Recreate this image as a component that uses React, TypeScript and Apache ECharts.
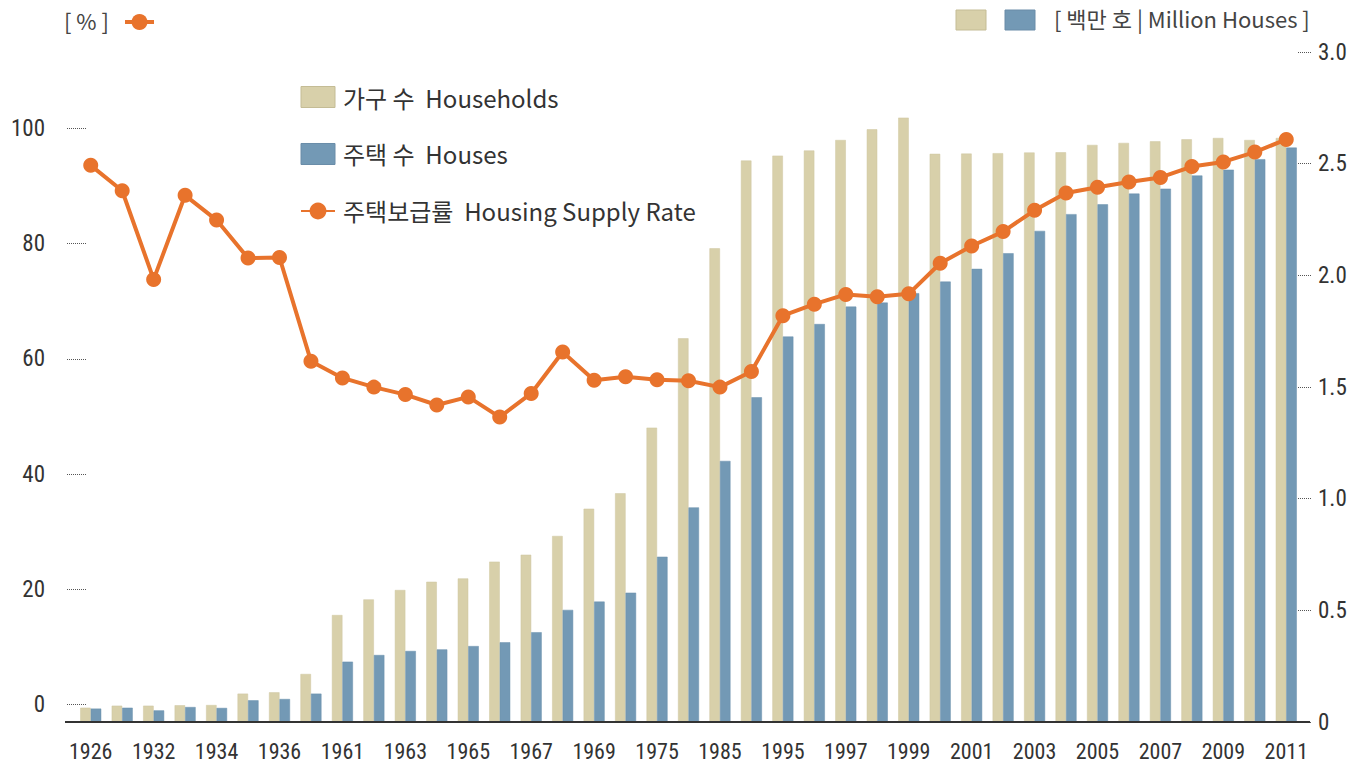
import React, { useEffect, useRef } from "react";
import * as echarts from "echarts";

const years = ["1926","1930","1932","1933","1934","1935","1936","1960","1961","1962","1963","1964","1965","1966","1967","1968","1969","1970","1975","1980","1985","1990","1995","1996","1997","1998","1999","2000","2001","2002","2003","2004","2005","2006","2007","2008","2009","2010","2011"];

const households = [0.064,0.073,0.073,0.075,0.076,0.127,0.133,0.215,0.479,0.549,0.591,0.628,0.643,0.718,0.749,0.833,0.955,1.024,1.318,1.718,2.121,2.514,2.536,2.559,2.606,2.654,2.706,2.544,2.545,2.547,2.550,2.551,2.584,2.593,2.600,2.609,2.615,2.606,2.615];

const houses = [0.060,0.064,0.052,0.067,0.063,0.097,0.103,0.127,0.270,0.300,0.318,0.325,0.340,0.357,0.402,0.502,0.539,0.579,0.740,0.961,1.169,1.454,1.726,1.782,1.860,1.878,1.920,1.972,2.029,2.099,2.199,2.274,2.318,2.366,2.388,2.447,2.473,2.520,2.572];

const supplyRate = [93.6,89.2,73.8,88.4,84.1,77.5,77.6,59.6,56.7,55.1,53.8,52.0,53.4,49.9,54.0,61.2,56.3,56.9,56.4,56.2,55.1,57.8,67.5,69.5,71.2,70.8,71.3,76.6,79.6,82.1,85.8,88.8,89.8,90.7,91.5,93.4,94.2,95.9,98.1];

const names = ["가구 수  Households", "주택 수  Houses", "주택보급률  Housing Supply Rate"];

const BEIGE = "#d8d0aa";
const BLUE = "#7399b5";
const ORANGE = "#e8732c";
const TEXT = "#333333";
const NUM_FONT = "'Liberation Sans Narrow', 'Roboto Condensed', 'DejaVu Sans Condensed', sans-serif";
const KR_FONT = "'Noto Sans CJK KR', 'Noto Sans', sans-serif";

export default function App() {
  const ref = useRef<HTMLDivElement>(null);
  useEffect(() => {
    document.body.style.margin = "0";
    const chart = echarts.init(ref.current!, null, { renderer: "svg" });
    chart.setOption({
      animation: false,
      backgroundColor: "#ffffff",
      grid: [
        { left: 75, right: 63, top: 52, bottom: 43 },
        { left: 75, right: 63, top: 128.5, bottom: 60.5 },
      ],
      legend: {
        orient: "vertical",
        left: 295,
        top: 80,
        itemWidth: 34,
        itemHeight: 21,
        itemGap: 33,
        data: [
          { name: names[0], icon: "rect", itemStyle: { borderColor: "#c4bc95", borderWidth: 1 } },
          { name: names[1], icon: "rect", itemStyle: { borderColor: "#6a8ca8", borderWidth: 1 } },
          { name: names[2] },
        ],
        textStyle: { fontFamily: KR_FONT, fontSize: 24, color: TEXT, padding: [0, 0, 0, 3] },
      },
      xAxis: [
        {
          type: "category",
          gridIndex: 0,
          data: years,
          axisLine: { show: false },
          axisTick: { show: false },
          axisLabel: {
            interval: 1,
            margin: 18,
            fontFamily: NUM_FONT,
            fontSize: 22,
            lineHeight: 22,
            color: TEXT,
          },
        },
        {
          type: "category",
          gridIndex: 1,
          data: years,
          show: false,
        },
      ],
      yAxis: [
        {
          type: "value",
          gridIndex: 0,
          position: "right",
          min: 0,
          max: 3,
          interval: 0.5,
          offset: -4,
          axisLine: { show: false },
          axisTick: { show: true, length: 14, lineStyle: { type: "dotted", color: "#555", width: 1 } },
          splitLine: { show: false },
          axisLabel: {
            margin: 20,
            fontFamily: NUM_FONT,
            fontSize: 23,
            color: TEXT,
            formatter: (v: number) => (v === 0 ? "0" : v.toFixed(1)),
          },
        },
        {
          type: "value",
          gridIndex: 1,
          position: "left",
          min: 0,
          max: 100,
          interval: 20,
          offset: -11,
          axisLine: { show: false },
          axisTick: { show: true, length: 20, lineStyle: { type: "dotted", color: "#555", width: 1 } },
          splitLine: { show: false },
          axisLabel: {
            margin: 41,
            fontFamily: NUM_FONT,
            fontSize: 23,
            color: TEXT,
          },
        },
      ],
      series: [
        {
          name: names[0],
          type: "bar",
          xAxisIndex: 0,
          yAxisIndex: 0,
          data: households,
          barWidth: 10.5,
          barGap: "0%",
          itemStyle: { color: BEIGE, borderColor: "#cfc7a0", borderWidth: 0.5 },
        },
        {
          name: names[1],
          type: "bar",
          xAxisIndex: 0,
          yAxisIndex: 0,
          data: houses,
          barWidth: 10.5,
          barGap: "0%",
          itemStyle: { color: BLUE, borderColor: "#6a90ac", borderWidth: 0.5 },
        },
        {
          name: names[2],
          type: "line",
          xAxisIndex: 1,
          yAxisIndex: 1,
          data: supplyRate,
          symbol: "circle",
          symbolSize: 15,
          lineStyle: { color: ORANGE, width: 4 },
          itemStyle: { color: ORANGE },
          z: 5,
        },
      ],
      graphic: [
        {
          type: "line",
          shape: { x1: 65, y1: 722, x2: 1310, y2: 722 },
          style: { stroke: "#333", lineWidth: 2 },
          z: 10,
        },
        {
          type: "text",
          left: 64,
          top: 9,
          style: { text: "[ % ]", fontFamily: KR_FONT, fontSize: 22, fill: "#444" },
        },
        {
          type: "line",
          shape: { x1: 125, y1: 22, x2: 154, y2: 22 },
          style: { stroke: ORANGE, lineWidth: 4 },
        },
        {
          type: "circle",
          shape: { cx: 139.5, cy: 22, r: 8 },
          style: { fill: ORANGE },
        },
        {
          type: "rect",
          shape: { x: 956, y: 10, width: 30, height: 20 },
          style: { fill: BEIGE, stroke: "#c4bc95", lineWidth: 1 },
        },
        {
          type: "rect",
          shape: { x: 1005, y: 10, width: 30, height: 20 },
          style: { fill: BLUE, stroke: "#6a8ca8", lineWidth: 1 },
        },
        {
          type: "text",
          left: 1054,
          top: 7,
          style: { text: "[ 백만 호 | Million Houses ]", fontFamily: KR_FONT, fontSize: 22, fill: "#444" },
        },
      ],
    });
    return () => chart.dispose();
  }, []);
  return <div ref={ref} style={{ width: 1365, height: 765 }} />;
}
